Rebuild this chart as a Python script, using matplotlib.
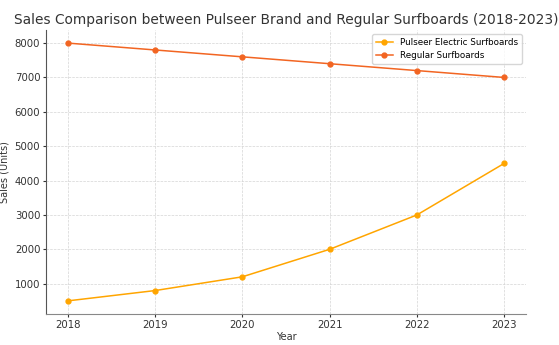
import matplotlib.pyplot as plt

years = [2018, 2019, 2020, 2021, 2022, 2023]
pulseer_sales = [500, 800, 1200, 2000, 3000, 4500]
regular_sales = [8000, 7800, 7600, 7400, 7200, 7000]

fig = plt.figure(figsize=(5.59, 3.45), dpi=100)
ax = fig.add_axes([0.082, 0.09, 0.859, 0.823])

ax.plot(years, pulseer_sales, marker='o', markersize=3.5, linewidth=1.1,
        color='#FFA500', label='Pulseer Electric Surfboards')
ax.plot(years, regular_sales, marker='o', markersize=3.5, linewidth=1.1,
        color='#F26522', label='Regular Surfboards')

ax.set_title('Sales Comparison between Pulseer Brand and Regular Surfboards (2018-2023)',
             fontsize=9.9, color='#333333', pad=4)
ax.set_xlabel('Year', fontsize=7, color='#333333', labelpad=2)
ax.set_ylabel('Sales (Units)', fontsize=7, color='#333333', labelpad=4)
ax.tick_params(labelsize=7.3, colors='#333333', length=2, pad=2)
ax.set_xticks(years)
ax.set_ylim(120, 8380)
ax.grid(True, linestyle='--', linewidth=0.5, color='#d5d5d5')
for s in ['top', 'right']:
    ax.spines[s].set_visible(False)
ax.spines['bottom'].set_color('#888888')
ax.spines['left'].set_color('#555555')
ax.legend(fontsize=6.3, loc='upper right')

fig.savefig('out.png', dpi=100)
